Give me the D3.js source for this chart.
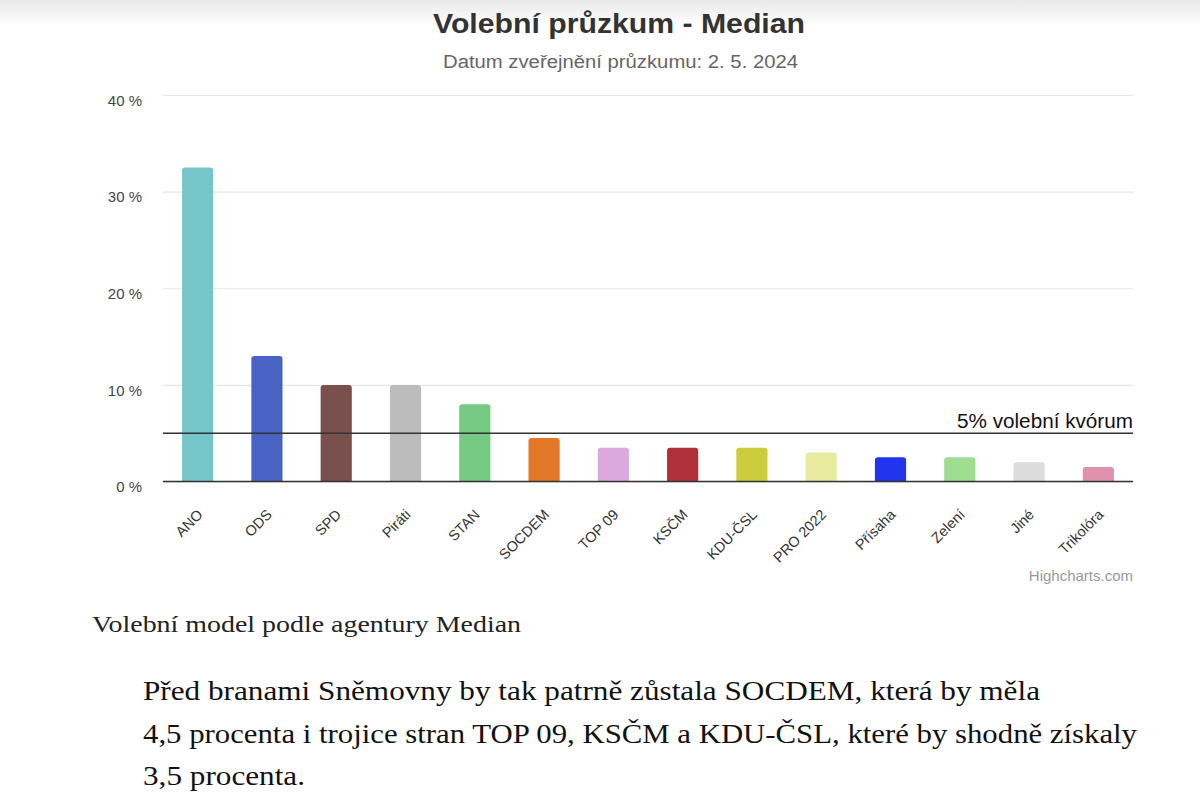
<!DOCTYPE html>
<html><head><meta charset="utf-8">
<script src="https://cdn.jsdelivr.net/npm/d3@7"></script>
<style>
html,body{margin:0;padding:0;background:#fff;}
svg{display:block;}
</style></head>
<body>
<svg id="c" width="1200" height="806"></svg>
<script>
const categories = ["ANO","ODS","SPD","Piráti","STAN","SOCDEM","TOP 09","KSČM","KDU-ČSL","PRO 2022","Přísaha","Zelení","Jiné","Trikolóra"];
const values = [32.5,13,10,10,8,4.5,3.5,3.5,3.5,3,2.5,2.5,2,1.5];
const barColors = ["#76c5c9","#4863c4","#7a504c","#bcbcbc","#75c982","#e37827","#dba9de","#b0303a","#cccc3d","#e6eb9f","#2134ee","#9fdd90","#dcdcdc","#e092ac"];
const yTicks = [0,10,20,30,40];
const yTickLabels = ["0 %","10 %","20 %","30 %","40 %"];
const quorum = 5;
const quorumLabel = "5% volební kvórum";
const titleText = "Volební průzkum - Median";
const subtitleText = "Datum zveřejnění průzkumu: 2. 5. 2024";
const creditText = "Highcharts.com";
const captionText = "Volební model podle agentury Median";
const paragraphLines = [
  "Před branami Sněmovny by tak patrně zůstala SOCDEM, která by měla",
  "4,5 procenta i trojice stran TOP 09, KSČM a KDU-ČSL, které by shodně získaly",
  "3,5 procenta."
];

(function(){
const svg = d3.select("#c");
const sans = "'Liberation Sans', Arial, Helvetica, sans-serif";
const serif = "'Liberation Serif', Georgia, serif";

const defs = svg.append("defs");
const g0 = defs.append("linearGradient").attr("id","hdr").attr("x1",0).attr("y1",0).attr("x2",0).attr("y2",1);
g0.append("stop").attr("offset","0%").attr("stop-color","#e9e9e9");
g0.append("stop").attr("offset","100%").attr("stop-color","#ffffff");
svg.append("rect").attr("x",0).attr("y",0).attr("width",1200).attr("height",26).attr("fill","url(#hdr)");

const pLeft = 163, pRight = 1133, pTop = 95, pBottom = 481.5;
const x = d3.scaleBand().domain(categories).range([pLeft,pRight]).paddingInner(0.55).paddingOuter(0.275);
const y = d3.scaleLinear().domain([0,40]).range([pBottom, pTop]);

svg.append("text").attr("x",433).attr("y",33)
  .attr("font-family",sans).attr("font-weight","bold").attr("font-size",28).attr("fill","#333")
  .attr("textLength",372).attr("lengthAdjust","spacingAndGlyphs")
  .text(titleText);
svg.append("text").attr("x",443).attr("y",68)
  .attr("font-family",sans).attr("font-size",18).attr("fill","#666")
  .attr("textLength",355).attr("lengthAdjust","spacingAndGlyphs")
  .text(subtitleText);

const yAxis = d3.axisLeft(y).tickValues(yTicks).tickSize(-(pRight-pLeft)).tickFormat((d,i)=>yTickLabels[i]);
const ga = svg.append("g").attr("transform",`translate(${pLeft},0)`).call(yAxis);
ga.select(".domain").remove();
ga.selectAll(".tick line").attr("stroke","#e6e6e6").attr("stroke-width",1.2);
ga.selectAll(".tick text").attr("x",-21).attr("dy","0.68em").attr("font-family",sans).attr("font-size",15).attr("fill","#444");

function barPath(x0,w,yTop,yBot,r){
  r = Math.min(r, (yBot-yTop), w/2);
  return `M${x0},${yBot}V${yTop+r}Q${x0},${yTop} ${x0+r},${yTop}H${x0+w-r}Q${x0+w},${yTop} ${x0+w},${yTop+r}V${yBot}Z`;
}
svg.append("g").selectAll("path").data(categories).join("path")
  .attr("d",(c,i)=>barPath(x(c), x.bandwidth(), y(values[i]), y(0), 3))
  .attr("fill",(c,i)=>barColors[i]);

svg.append("line").attr("x1",pLeft).attr("x2",pRight).attr("y1",y(0)).attr("y2",y(0)).attr("stroke","#333").attr("stroke-width",1.6);
svg.append("line").attr("x1",pLeft).attr("x2",pRight).attr("y1",y(quorum)).attr("y2",y(quorum)).attr("stroke","#333").attr("stroke-width",1.6);
svg.append("text").attr("x",pRight).attr("y",y(quorum)-5).attr("text-anchor","end")
  .attr("font-family",sans).attr("font-size",20).attr("fill","#111")
  .attr("textLength",176).attr("lengthAdjust","spacingAndGlyphs").text(quorumLabel);

const xAxis = d3.axisBottom(x).tickSize(0);
const gx = svg.append("g").attr("transform",`translate(0,${pBottom})`).call(xAxis);
gx.select(".domain").remove();
gx.selectAll(".tick text")
  .attr("text-anchor","end").attr("x",0).attr("y",0).attr("dy",0)
  .attr("transform","translate(6,34) rotate(-45)")
  .attr("font-family",sans).attr("font-size",14.5).attr("fill","#333");

svg.append("text").attr("x",pRight).attr("y",581).attr("text-anchor","end")
  .attr("font-family",sans).attr("font-size",15).attr("fill","#999").text(creditText);

svg.append("text").attr("x",92).attr("y",632).attr("font-family",serif).attr("font-size",23)
  .attr("fill","#222").attr("textLength",429).attr("lengthAdjust","spacingAndGlyphs").text(captionText);
const lineW = [897, 994, 162];
const lineY = [700, 743, 785];
svg.append("g").selectAll("text").data(paragraphLines).join("text")
  .attr("x",143).attr("y",(d,i)=>lineY[i]).attr("font-family",serif).attr("font-size",27)
  .attr("fill","#111").attr("textLength",(d,i)=>lineW[i]).attr("lengthAdjust","spacingAndGlyphs")
  .text(d=>d);
})();
</script>
</body></html>
